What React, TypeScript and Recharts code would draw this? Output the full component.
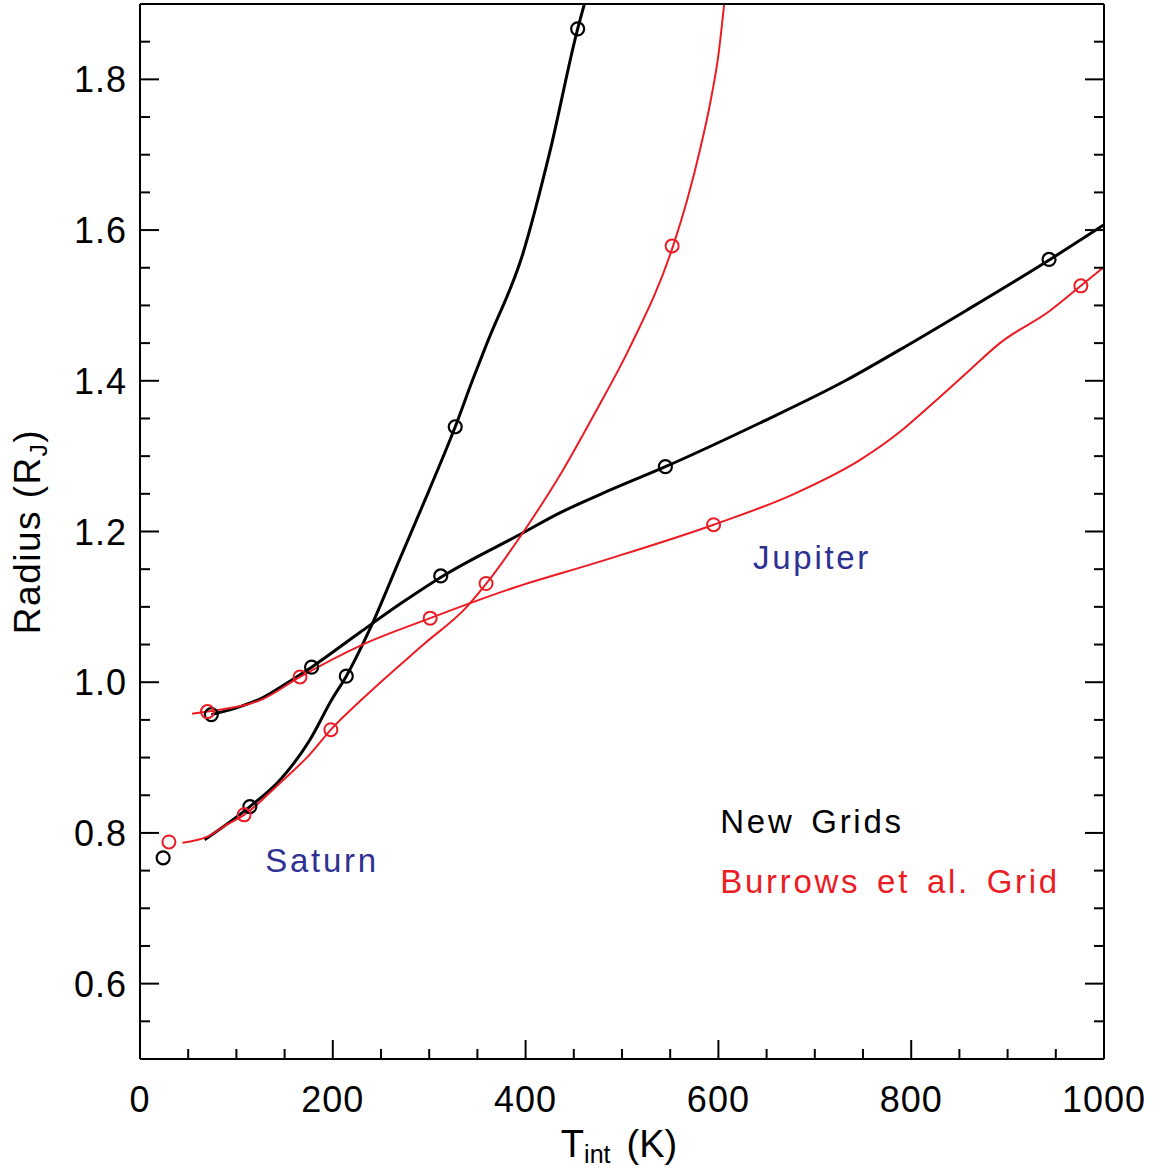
import { ComposedChart, Line, Scatter, XAxis, YAxis, Label, ReferenceDot } from "recharts";

// radius vs internal temperature, Jupiter/Saturn tracks, new grids vs Burrows grid
const xTicks = [0, 50, 100, 150, 200, 250, 300, 350, 400, 450, 500, 550, 600, 650, 700, 750, 800, 850, 900, 950, 1000];
const xMajor = [0, 200, 400, 600, 800, 1000];
const yTicks = [
  0.5, 0.55, 0.6, 0.65, 0.7, 0.75, 0.8, 0.85, 0.9, 0.95, 1.0, 1.05, 1.1, 1.15, 1.2, 1.25, 1.3, 1.35, 1.4, 1.45,
  1.5, 1.55, 1.6, 1.65, 1.7, 1.75, 1.8, 1.85, 1.9,
];
const yMajor = [0.6, 0.8, 1.0, 1.2, 1.4, 1.6, 1.8];

const newJupiter = [
  { t: 74, r: 0.957 }, { t: 100, r: 0.966 }, { t: 128, r: 0.98 }, { t: 150, r: 0.997 }, { t: 178, r: 1.02 },
  { t: 228, r: 1.066 }, { t: 270, r: 1.104 }, { t: 313, r: 1.14 }, { t: 397, r: 1.198 }, { t: 436, r: 1.225 },
  { t: 477, r: 1.249 }, { t: 545, r: 1.286 }, { t: 643, r: 1.344 }, { t: 733, r: 1.401 }, { t: 788, r: 1.441 },
  { t: 858, r: 1.494 }, { t: 944, r: 1.561 }, { t: 1000, r: 1.607 },
];
const newSaturn = [
  { t: 67, r: 0.791 }, { t: 114, r: 0.835 }, { t: 145, r: 0.87 }, { t: 176, r: 0.923 }, { t: 199, r: 0.977 },
  { t: 214, r: 1.008 }, { t: 239, r: 1.072 }, { t: 270, r: 1.165 }, { t: 300, r: 1.255 }, { t: 327, r: 1.339 },
  { t: 345, r: 1.401 }, { t: 360, r: 1.45 }, { t: 397, r: 1.568 }, { t: 425, r: 1.703 }, { t: 454, r: 1.867 },
  { t: 461, r: 1.9 },
];
const burrowsJupiter = [
  { t: 54, r: 0.958 }, { t: 70, r: 0.961 }, { t: 128, r: 0.978 }, { t: 166, r: 1.007 }, { t: 231, r: 1.05 },
  { t: 301, r: 1.085 }, { t: 387, r: 1.125 }, { t: 477, r: 1.16 }, { t: 595, r: 1.209 }, { t: 677, r: 1.249 },
  { t: 747, r: 1.295 }, { t: 788, r: 1.332 }, { t: 809, r: 1.355 }, { t: 858, r: 1.411 }, { t: 892, r: 1.45 },
  { t: 944, r: 1.493 }, { t: 976, r: 1.526 }, { t: 1000, r: 1.551 },
];
const burrowsSaturn = [
  { t: 44, r: 0.787 }, { t: 70, r: 0.795 }, { t: 90, r: 0.811 }, { t: 108, r: 0.824 }, { t: 145, r: 0.866 },
  { t: 176, r: 0.904 }, { t: 198, r: 0.937 }, { t: 230, r: 0.977 }, { t: 294, r: 1.05 }, { t: 339, r: 1.1 },
  { t: 360, r: 1.132 }, { t: 397, r: 1.198 }, { t: 439, r: 1.282 }, { t: 474, r: 1.362 }, { t: 508, r: 1.444 },
  { t: 553, r: 1.579 }, { t: 568, r: 1.642 }, { t: 581, r: 1.707 }, { t: 592, r: 1.772 }, { t: 600, r: 1.832 },
  { t: 606, r: 1.9 },
];

const newPoints = [
  { t: 24, r: 0.767 }, { t: 74, r: 0.957 }, { t: 114, r: 0.835 }, { t: 178, r: 1.02 }, { t: 214, r: 1.008 },
  { t: 312, r: 1.141 }, { t: 327, r: 1.339 }, { t: 454, r: 1.867 }, { t: 545, r: 1.286 }, { t: 943, r: 1.561 },
];
const burrowsPoints = [
  { t: 30, r: 0.788 }, { t: 70, r: 0.961 }, { t: 108, r: 0.824 }, { t: 166, r: 1.007 }, { t: 198, r: 0.937 },
  { t: 301, r: 1.085 }, { t: 359, r: 1.131 }, { t: 552, r: 1.579 }, { t: 595, r: 1.209 }, { t: 976, r: 1.526 },
];

const BLACK = "#000000";
const RED = "#ec1c24";
const BLUE = "#2e3192";
const FONT = "'Liberation Sans', Arial, sans-serif";

const annotations = [
  { t: 636, r: 1.15, text: "Jupiter", color: BLUE },
  { t: 130, r: 0.748, text: "Saturn", color: BLUE },
  { t: 602, r: 0.8, text: "New Grids", color: BLACK },
  { t: 602, r: 0.72, text: "Burrows et al. Grid", color: RED },
];

const isMajor = (list: number[], v: number) => list.some((m) => Math.abs(m - v) < 1e-6);

const BottomTick = (p: any) => {
  const v = p.payload.value;
  const major = isMajor(xMajor, v);
  return (
    <g>
      <line x1={p.x} x2={p.x} y1={p.y} y2={p.y - (major ? 19 : 10)} stroke={BLACK} strokeWidth={2} />
      {major && (
        <text x={p.x} y={p.y + 53} textAnchor="middle" fontFamily={FONT} fontSize={36} letterSpacing={1} fill={BLACK}>
          {v}
        </text>
      )}
    </g>
  );
};
const TopTick = (p: any) => {
  const major = isMajor(xMajor, p.payload.value);
  return <line x1={p.x} x2={p.x} y1={p.y} y2={p.y + (major ? 19 : 10)} stroke={BLACK} strokeWidth={2} />;
};
const LeftTick = (p: any) => {
  const v = p.payload.value;
  const major = isMajor(yMajor, v);
  return (
    <g>
      <line x1={p.x} x2={p.x + (major ? 19 : 10)} y1={p.y} y2={p.y} stroke={BLACK} strokeWidth={2} />
      {major && (
        <text x={p.x - 13} y={p.y + 13} textAnchor="end" fontFamily={FONT} fontSize={36} letterSpacing={1} fill={BLACK}>
          {v.toFixed(1)}
        </text>
      )}
    </g>
  );
};
const RightTick = (p: any) => {
  const major = isMajor(yMajor, p.payload.value);
  return <line x1={p.x} x2={p.x - (major ? 19 : 10)} y1={p.y} y2={p.y} stroke={BLACK} strokeWidth={2} />;
};

const XTitle = (p: any) => {
  const vb = p.viewBox;
  const cx = vb.x + vb.width / 2;
  return (
    <text x={cx - 3} y={vb.y + 98} textAnchor="middle" fontFamily={FONT} fontSize={38} fill={BLACK}>
      <tspan>T</tspan>
      <tspan fontSize={25} dy={6}>int</tspan>
      <tspan dy={-6} dx={16}>(K)</tspan>
    </text>
  );
};
const YTitle = (p: any) => {
  const vb = p.viewBox;
  const cy = vb.y + vb.height / 2;
  const bx = 40;
  return (
    <text x={bx} y={cy} transform={`rotate(-90, ${bx}, ${cy})`} textAnchor="middle" fontFamily={FONT} fontSize={37} letterSpacing={1.5} fill={BLACK}>
      <tspan>Radius (R</tspan>
      <tspan fontSize={24} dy={7}>J</tspan>
      <tspan dy={-7}>)</tspan>
    </text>
  );
};

const ring = (color: string, w: number) => (p: any) =>
  <circle cx={p.cx} cy={p.cy} r={6.5} fill="none" stroke={color} strokeWidth={w} />;

export default function App() {
  return (
    <div style={{ position: "absolute", left: 0, top: 0, background: "#fff" }}>
      <ComposedChart width={1162} height={1170} margin={{ top: 0, right: 0, bottom: 0, left: 0 }}>
        <XAxis
          xAxisId={0}
          dataKey="t"
          type="number"
          domain={[0, 1000]}
          allowDataOverflow
          ticks={xTicks}
          interval={0}
          height={111}
          tickSize={0}
          tickMargin={0}
          tickLine={false}
          tick={BottomTick}
          axisLine={{ stroke: BLACK, strokeWidth: 2 }}
        >
          <Label content={XTitle} />
        </XAxis>
        <XAxis
          xAxisId="top"
          orientation="top"
          type="number"
          domain={[0, 1000]}
          allowDataOverflow
          ticks={xTicks}
          interval={0}
          height={4}
          tickSize={0}
          tickMargin={0}
          tickLine={false}
          tick={TopTick}
          axisLine={{ stroke: BLACK, strokeWidth: 2 }}
        />
        <YAxis
          yAxisId={0}
          type="number"
          domain={[0.5, 1.9]}
          allowDataOverflow
          ticks={yTicks}
          interval={0}
          width={140}
          tickSize={0}
          tickMargin={0}
          tickLine={false}
          tick={LeftTick}
          axisLine={{ stroke: BLACK, strokeWidth: 2 }}
        >
          <Label content={YTitle} />
        </YAxis>
        <YAxis
          yAxisId="right"
          orientation="right"
          type="number"
          domain={[0.5, 1.9]}
          allowDataOverflow
          ticks={yTicks}
          interval={0}
          width={58}
          tickSize={0}
          tickMargin={0}
          tickLine={false}
          tick={RightTick}
          axisLine={{ stroke: BLACK, strokeWidth: 2 }}
        />
        <Line data={newJupiter} dataKey="r" type="monotone" stroke={BLACK} strokeWidth={3} dot={false} activeDot={false} isAnimationActive={false} />
        <Line data={newSaturn} dataKey="r" type="monotone" stroke={BLACK} strokeWidth={3} dot={false} activeDot={false} isAnimationActive={false} />
        <Line data={burrowsJupiter} dataKey="r" type="monotone" stroke={RED} strokeWidth={2} dot={false} activeDot={false} isAnimationActive={false} />
        <Line data={burrowsSaturn} dataKey="r" type="monotone" stroke={RED} strokeWidth={2} dot={false} activeDot={false} isAnimationActive={false} />
        <Scatter data={newPoints} dataKey="r" shape={ring(BLACK, 2.2)} isAnimationActive={false} />
        <Scatter data={burrowsPoints} dataKey="r" shape={ring(RED, 2)} isAnimationActive={false} />
        {annotations.map((a) => (
          <ReferenceDot
            key={a.text}
            x={a.t}
            y={a.r}
            r={0}
            shape={(p: any) => (
              <text x={p.cx} y={p.cy} fontFamily={FONT} fontSize={33} letterSpacing={2.7} wordSpacing={5} fill={a.color}>
                {a.text}
              </text>
            )}
          />
        ))}
      </ComposedChart>
    </div>
  );
}
